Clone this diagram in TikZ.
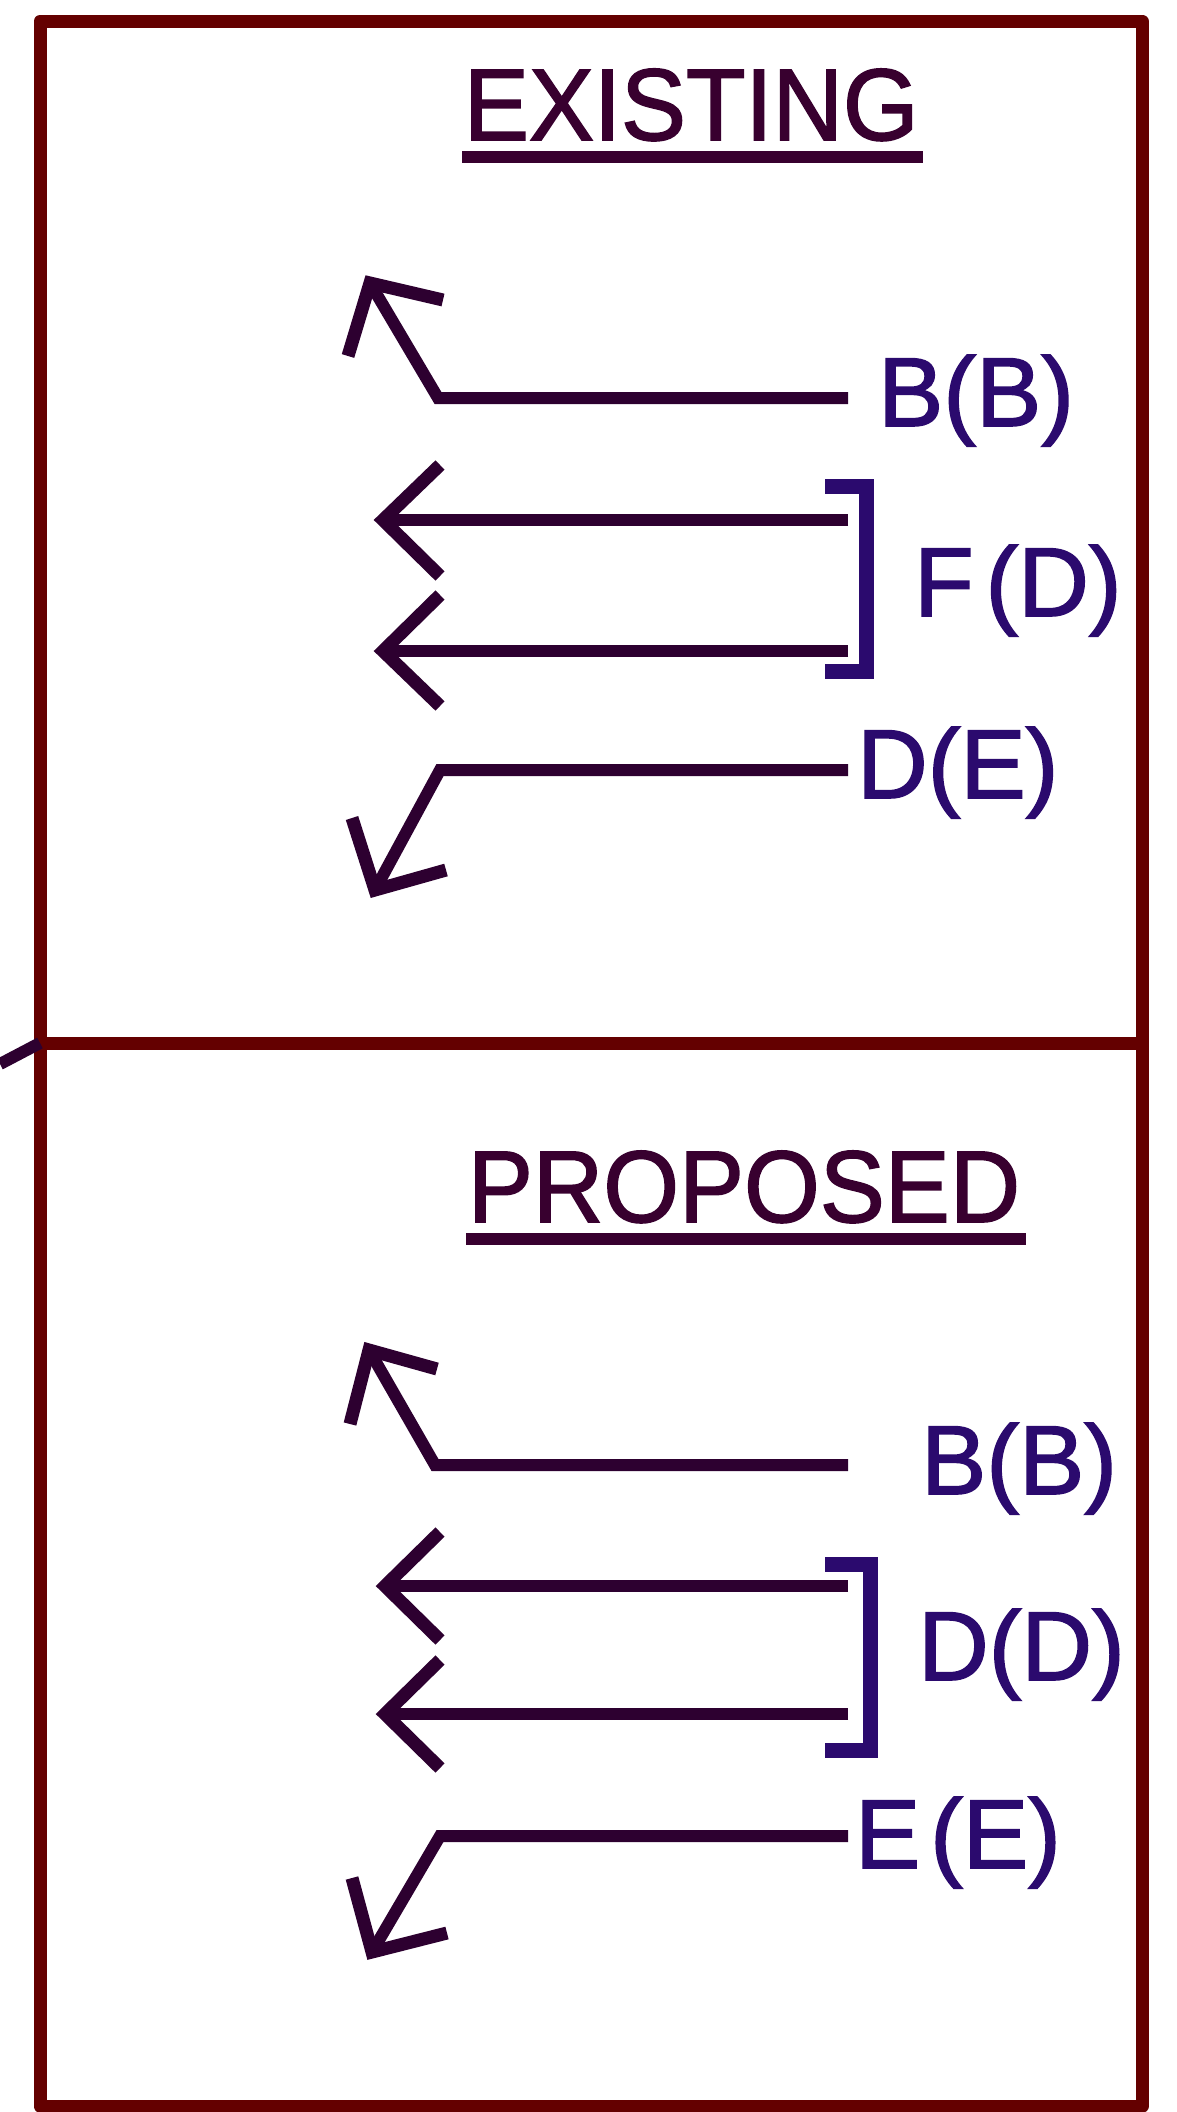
\documentclass[tikz,border=0pt]{standalone}
\usepackage{fontspec}
\setmainfont{Liberation Sans}
\newfontfamily\heavyfont[FakeBold=1.6]{Liberation Sans}
\usepackage{graphicx}
\definecolor{framered}{HTML}{640000}
\definecolor{arrowc}{HTML}{2D0030}
\definecolor{labelc}{HTML}{2B0A6E}
\definecolor{titlec}{HTML}{38002F}
\tikzset{
  framebox/.style={draw=framered,line width=13pt,line join=round},
  shaft/.style={draw=arrowc,line width=12pt,line join=miter,line cap=butt},
  head/.style={draw=arrowc,line width=13pt,line join=miter,miter limit=4,line cap=butt},
  brack/.style={draw=labelc,line width=15pt,line join=miter,line cap=butt},
  lbl/.style={anchor=base west,inner sep=0pt,outer sep=0pt,text=labelc,font=\heavyfont\fontsize{98}{100}\selectfont},
  ttl/.style={anchor=base west,inner sep=0pt,outer sep=0pt,text=titlec,font=\heavyfont\fontsize{102}{104}\selectfont},
  uline/.style={draw=titlec,line width=12pt,line cap=butt}
}
\begin{document}
\begin{tikzpicture}[x=1pt,y=-1pt]
\useasboundingbox (0,0) rectangle (1176,2112);
\fill[white] (0,0) rectangle (1176,2112);

% frame
\coordinate (ftl) at (40,21);
\coordinate (fbr) at (1142,2106);
\draw[framebox] (ftl) rectangle (fbr);
\coordinate (dl) at (40,1043);
\coordinate (dr) at (1142,1043);
\draw[framebox,line cap=butt] (dl) -- (dr);
\coordinate (stub) at (0,1064);
\draw[shaft] (stub) -- (dl);

% ===== EXISTING =====
\node[ttl] (t1) at (464,140) {\scalebox{0.955}[1]{EXISTING}};
\draw[uline] ([yshift=-17pt,xshift=-2pt]t1.base west) -- ([yshift=-17pt,xshift=4pt]t1.base east);

% arrow up-left B(B)
\coordinate (a1e) at (848,398);
\coordinate (a1c) at (438,398);
\coordinate (a1t) at (370,283);
\draw[shaft] (a1e) -- (a1c) -- (a1t);
\draw[head] (348,356) -- (a1t) -- (443,300);
\node[lbl] (l1) at (878,426) {B(B)};

% two straight arrows F (D)
\coordinate (a2e) at (848,520);
\coordinate (a2t) at (383,520);
\draw[shaft] (a2e) -- (a2t);
\draw[head] (440,465) -- (a2t) -- (440,576);
\coordinate (a3e) at (848,651);
\coordinate (a3t) at (383,651);
\draw[shaft] (a3e) -- (a3t);
\draw[head] (440,595) -- (a3t) -- (440,706);
\draw[brack] (825,486) -- (866,486) -- (866,671) -- (825,671);
\node[lbl] (l2) at (914,616) {F\hspace{0.12em}(D)};

% arrow down-left D(E)
\coordinate (a4e) at (848,770);
\coordinate (a4c) at (440,770);
\coordinate (a4t) at (375,890);
\draw[shaft] (a4e) -- (a4c) -- (a4t);
\draw[head] (352,818) -- (a4t) -- (446,870);
\node[lbl] (l3) at (857,798) {D(E)};

% ===== PROPOSED =====
\node[ttl] (t2) at (468,1222) {\scalebox{0.955}[1]{PROPOSED}};
\draw[uline] ([yshift=-17pt,xshift=-2pt]t2.base west) -- ([yshift=-17pt,xshift=6pt]t2.base east);

\coordinate (b1e) at (848,1465);
\coordinate (b1c) at (435,1465);
\coordinate (b1t) at (369,1350);
\draw[shaft] (b1e) -- (b1c) -- (b1t);
\draw[head] (350,1424) -- (b1t) -- (437,1369);
\node[lbl] (m1) at (921,1494) {B(B)};

\coordinate (b2e) at (848,1586);
\coordinate (b2t) at (385,1586);
\draw[shaft] (b2e) -- (b2t);
\draw[head] (440,1532) -- (b2t) -- (440,1640);
\coordinate (b3e) at (848,1714);
\coordinate (b3t) at (385,1714);
\draw[shaft] (b3e) -- (b3t);
\draw[head] (440,1660) -- (b3t) -- (440,1768);
\draw[brack] (825,1564) -- (870,1564) -- (870,1750) -- (825,1750);
\node[lbl] (m2) at (918,1680) {D(D)};

\coordinate (b4e) at (848,1836);
\coordinate (b4c) at (440,1836);
\coordinate (b4t) at (372,1952);
\draw[shaft] (b4e) -- (b4c) -- (b4t);
\draw[head] (352,1878) -- (b4t) -- (447,1933);
\node[lbl] (m3) at (855,1868) {E\hspace{0.1em}(E)};
\end{tikzpicture}
\end{document}
